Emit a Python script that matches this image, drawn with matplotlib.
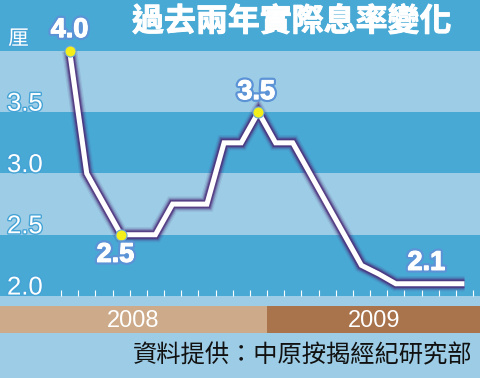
import numpy as np
import matplotlib
matplotlib.use("Agg")
import matplotlib.pyplot as plt
import matplotlib.patheffects as pe
from matplotlib.transforms import blended_transform_factory

# data: monthly rate, Jan 2008 .. Dec 2009
rates = [4.0, 3.0, 2.75, 2.5, 2.5, 2.5, 2.75, 2.75, 2.75, 3.25, 3.25, 3.5,
         3.25, 3.25, 3.0, 2.75, 2.5, 2.25, 2.18, 2.1, 2.1, 2.1, 2.1, 2.1]
months = np.arange(len(rates)) + 0.5
marked = [0, 3, 11]          # points with yellow dots
labelled = {0: "4.0", 3: "2.5", 11: "3.5", 22: "2.1"}
ytick_vals = [3.5, 3.0, 2.5, 2.0]
years = ["2008", "2009"]

title = "過去兩年實際息率變化"
unit = "厘"
source = "資料提供：中原按揭經紀研究部"

dark = "#48a9d5"
light = "#9dcde6"
purple = "#4b2a78"
outline = "#5b93d6"

W, H = 481, 378
fig = plt.figure(figsize=(W / 100, H / 100), dpi=100)
fig.patch.set_facecolor(light)

# main axes: bottom edge at value 2.0
ax = fig.add_axes([0, (H - 296) / H, 1, 296 / H])
ax.set_facecolor(light)
xmin, xmax = -61 / 17.167, (W - 61) / 17.167
ax.set_xlim(xmin, xmax)
ax.set_ylim(2.0, 4.0 + 51 / 122.7)
for lo, hi in [(2.0, 2.5), (3.0, 3.5), (4.0, 5.0)]:
    ax.axhspan(lo, hi, color=dark, lw=0, zorder=0)
for s in ax.spines.values():
    s.set_visible(False)
ax.set_yticks([])
ax.set_xticks(range(25))
ax.tick_params(axis="x", direction="in", length=4, width=0.8, color="white",
               labelbottom=False)

# glowing line
for lw, a in [(11, 0.12), (9, 0.2), (7.5, 0.35), (6, 0.7)]:
    ax.plot(months, rates, color=purple, lw=lw, alpha=a,
            solid_joinstyle="miter", solid_capstyle="butt", zorder=2)
ax.plot(months, rates, color="white", lw=3.6, solid_joinstyle="miter",
        solid_capstyle="butt", zorder=3)
ax.plot(months[marked], np.array(rates)[marked], "o", ms=8, color="#f4ee1a",
        mec="#6aa8d8", mew=0.8, zorder=4)

offsets = {0: (0, 15), 3: (-4, -14.5), 11: (-1.5, 14.5), 22: (-15, 15)}
for i, txt in labelled.items():
    dx, dy = offsets[i]
    ax.annotate(txt, (months[i], rates[i]), xytext=(dx, dy),
                textcoords="offset points", ha="center", va="center",
                fontsize=19.5, fontweight="bold", family="Liberation Sans",
                color="white", zorder=5,
                path_effects=[pe.withStroke(linewidth=4, foreground=outline),
                              pe.withStroke(linewidth=0.8, foreground="white")])

trans = blended_transform_factory(ax.transAxes, ax.transData)
for v in ytick_vals:
    ax.text(7 / W, v + 0.012, f"{v:.1f}", transform=trans, ha="left",
            va="baseline", fontsize=18.5, family="Liberation Sans",
            color="white",
            path_effects=[pe.withStroke(linewidth=2, foreground="#45a3d6")])
ax.text(8 / W, 4.01, unit, transform=trans, ha="left", va="bottom",
        fontsize=15, family=["Noto Sans CJK TC", "DejaVu Sans"], color="white",
        path_effects=[pe.withStroke(linewidth=1.5, foreground="#45a3d6")])

# year bar
yax = fig.add_axes([0, (H - 333) / H, 1, 27 / H])
yax.set_xlim(xmin, xmax)
yax.set_ylim(0, 1)
yax.axis("off")
bounds = [(xmin, 12), (12, xmax)]
for (a, b), name, col in zip(bounds, years, ["#cdab8a", "#a9734c"]):
    yax.barh(0.5, b - a, left=a, height=1, color=col, lw=0)
    yax.text((a + b) / 2, 0.45, name, ha="center", va="center",
             fontsize=17, family="Liberation Sans", color="white")

fig.text(292 / W, 1 - 22 / H, title, ha="center", va="center", fontsize=23,
         fontweight="heavy", family=["Noto Sans CJK TC", "DejaVu Sans"],
         color="white",
         path_effects=[pe.withStroke(linewidth=0.7, foreground="white")])
fig.text(472 / W, 1 - 355 / H, source, ha="right", va="center", fontsize=17.5,
         family=["Noto Sans CJK TC", "DejaVu Sans"], color="#111111")

fig.savefig("out.png", dpi=100, facecolor=fig.get_facecolor())
